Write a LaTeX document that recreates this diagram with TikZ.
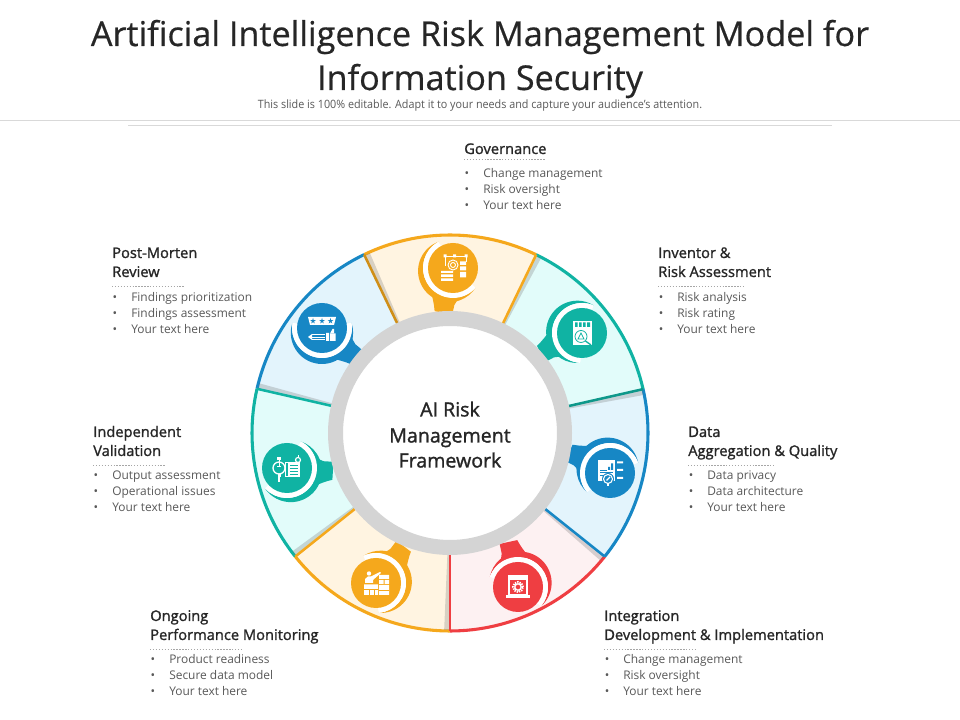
\documentclass[tikz,border=0pt]{standalone}
\usepackage{fontspec}
\setmainfont{Open Sans}
\newfontfamily\semifont[FakeBold=1.3]{Open Sans}
\newfontfamily\titlefont[FakeBold=0.5]{Open Sans}
\definecolor{cOr}{HTML}{F5A81C}\definecolor{fOr}{HTML}{FFF4E1}
\definecolor{cTe}{HTML}{10B3A3}\definecolor{fTe}{HTML}{E2FCFA}
\definecolor{cBl}{HTML}{1787C5}\definecolor{fBl}{HTML}{E3F4FC}
\definecolor{cRe}{HTML}{EF3E42}\definecolor{fRe}{HTML}{FDF1F2}
\definecolor{ringgray}{HTML}{D4D4D4}
\definecolor{txt}{HTML}{262626}\definecolor{body}{HTML}{595959}
\tikzset{
  x=0.75pt,y=0.75pt,
  headtxt/.style={anchor=base west,inner sep=0pt,text=txt,font=\semifont\fontsize{11pt}{13pt}\selectfont},
  itemtxt/.style={anchor=base west,inner sep=0pt,text=body,font=\fontsize{8.95pt}{11pt}\selectfont},
  bullettxt/.style={anchor=base,inner sep=0pt,text=body,font=\fontsize{9pt}{11pt}\selectfont},
  centertxt/.style={anchor=base,inner sep=0pt,text=txt,font=\semifont\fontsize{14.7pt}{17pt}\selectfont},
  titletxt/.style={anchor=base,inner sep=0pt,text=txt,font=\titlefont\fontsize{25.65pt}{30pt}\selectfont},
  dotline/.style={draw=black!35,line width=0.5pt,dash pattern=on 1pt off 1.2pt},
  glyph/.style={draw=white,line width=0.7pt,fill=none}
}
% name, x of bullets, first centre y, three texts
\newcommand{\itemblk}[6]{%
  \node[bullettxt] (#1bA) at (#2+3,{720-#3-5}) {•};
  \node[itemtxt] (#1iA) at (#2+19,{720-#3-5}) {#4};
  \node[bullettxt] (#1bB) at (#2+3,{720-#3-21}) {•};
  \node[itemtxt] (#1iB) at (#2+19,{720-#3-21}) {#5};
  \node[bullettxt] (#1bC) at (#2+3,{720-#3-37}) {•};
  \node[itemtxt] (#1iC) at (#2+19,{720-#3-37}) {#6};
}
% sector: a1 a2 fill colour
\newcommand{\sectorfill}[4]{%
  \fill[#3] (#1:112) -- (#1:198) arc[start angle=#1,end angle=#2,radius=198] -- (#2:112) arc[start angle=#2,end angle=#1,radius=112] -- cycle;
  \draw[#4,line width=2.3pt] (#1:198) arc[start angle=#1,end angle=#2,radius=198];
}
% divider at angle, colour
\newcommand{\divider}[2]{%
  \fill[black!55,opacity=.28] (#1:118) -- (#1:197) -- (#1-1.7:197) -- (#1-1.2:118) -- cycle;
  \draw[#2,line width=1.9pt] (#1:118) -- (#1:198);
}
% x, y (image), crescent angle, tab angle, colour
\newcommand{\pinshape}[5]{%
  \begin{scope}[shift={(#1,{720-#2})}]
    \fill[#5,rotate=#3] (-100:30) arc[start angle=-108.8,end angle=108.8,radius=31.16] arc[start angle=100,end angle=-100,radius=30] -- cycle;
    \fill[#5,rotate=#4] (27,-17) .. controls (33,-14) and (39,-11) .. (46,-9) -- (46,9) -- (36,9) .. controls (33,10) and (30,11) .. (27,13) -- cycle;
    \draw[white,line width=3.75pt,rotate=#3] (-100:27.5) arc[start angle=-100,end angle=100,radius=27.5];
    \fill[#5] (0,0) circle[radius=25];
  \end{scope}
}
\newcommand{\tinystar}[3]{\fill[#3] (#1,#2) +(90:3) -- +(234:3) -- +(18:3) -- +(162:3) -- +(306:3) -- cycle;}
\begin{document}
\begin{tikzpicture}
\path[use as bounding box,fill=white] (0,0) rectangle (960,720);
% title
\node[titletxt] (title1) at (480,674) {Artificial Intelligence Risk Management Model for};
\node[titletxt] (title2) at (480,630) {Information Security};
\node[inner sep=0pt,text=body,font=\fontsize{8.6pt}{10pt}\selectfont] (subtitle) at (480,614.5) {\scalebox{0.94}[1]{This slide is 100\% editable. Adapt it to your needs and capture your audience's attention.}};
\draw[black!15,line width=0.75pt] (0,599) -- (960,599);
\draw[black!15,line width=0.75pt] (128,594) -- (832,594);
% wheel
\begin{scope}[shift={(450,287)}]
  \sectorfill{64.2}{115.7}{fOr}{cOr}
  \sectorfill{115.7}{167.1}{fBl}{cBl}
  \sectorfill{167.1}{218.6}{fTe}{cTe}
  \sectorfill{218.6}{270}{fOr}{cOr}
  \sectorfill{270}{321.4}{fRe}{cRe}
  \sectorfill{-38.6}{12.8}{fBl}{cBl}
  \sectorfill{12.8}{64.2}{fTe}{cTe}
  \divider{115.7}{cOr!85!black}
  \divider{64.2}{cOr}
  \divider{12.8}{cTe!85!black}
  \divider{-38.6}{cBl}
  \divider{270}{cRe}
  \divider{218.6}{cOr}
  \divider{167.1}{cTe}
\end{scope}
% pins
\pinshape{453}{268}{219}{258}{cOr}
\pinshape{322}{328}{-90}{-40}{cBl}
\pinshape{582}{333}{167}{207}{cTe}
\pinshape{610}{473}{120}{154}{cBl}
\pinshape{518}{587}{60}{102}{cRe}
\pinshape{376}{583}{15}{53}{cOr}
\pinshape{287}{468}{-37.5}{-3.5}{cTe}
% central ring
\draw[ringgray,fill=white,line width=11.25pt] (450,287) circle[radius=114.5];
% glyph: top orange
\begin{scope}[shift={(453,452)}]
  \draw[glyph] (-8,12) -- (13,12) (-8,12) -- (-8,2) (13,12) -- (13,6);
  \fill[white] (-9.5,10.5) rectangle (-6.5,13.5) (11.5,10.5) rectangle (14.5,13.5) (0,10.5) rectangle (3,13.5);
  \draw[glyph] (0,3) circle[radius=5] (0,3) circle[radius=2.5];
  \fill[white] (7,3) rectangle (13,6.5) (7,-2.5) rectangle (13,1.5) (7,-9.5) rectangle (13,-4);
  \fill[white] (-12,-5) rectangle (0,-3) (-12,-9) rectangle (0,-6.5) (-12,-13) rectangle (0,-10.5);
\end{scope}
% glyph: post-morten
\begin{scope}[shift={(322,392)}]
  \fill[white] (-14,11) -- (14,11) -- (12,3) -- (-12,3) -- cycle;
  \tinystar{-9}{7}{cBl}\tinystar{0}{7}{cBl}\tinystar{8.5}{7}{cBl}
  \fill[white] (-14,-9) -- (-10,-6) -- (-10,-12) -- cycle;
  \draw[white,line width=0.6pt] (-10,-6.5) -- (3,-6.5) (-10,-9) -- (3,-9) (-10,-11.5) -- (3,-11.5);
  \fill[white] (4,-13) rectangle (7,-5) (8,-13) rectangle (13.5,-5.5);
  \fill[white] (8,-5.5) -- (10.5,-1) -- (12,-1) -- (12,-5.5) -- cycle;
\end{scope}
% glyph: inventor
\begin{scope}[shift={(582,387)}]
  \fill[white] (-9,-12) rectangle (10,12);
  \fill[cTe] (-7,6) rectangle (-4.5,10.5) (-3,6) rectangle (-0.5,10.5) (1,6) rectangle (3.5,10.5) (5,6) rectangle (8,10.5);
  \draw[cTe,line width=0.6pt] (-1,-3.5) circle[radius=6];
  \draw[cTe,line width=0.6pt] (-4,-6) -- (-1,0) -- (2,-6) -- cycle;
  \draw[cTe,line width=1pt] (3.5,-8) -- (9,-12);
\end{scope}
% glyph: data
\begin{scope}[shift={(610,247)}]
  \fill[white] (-12,-8) rectangle (5,13);
  \fill[cBl] (-2,3) rectangle (0,6) (1,3) rectangle (3,9.5);
  \draw[cBl,line width=0.5pt] (-10,3) -- (-3,3) (-10,0.5) -- (3,0.5) (-10,-2) -- (3,-2);
  \fill[white] (7,9.5) rectangle (13,11.5) (7,2) rectangle (13,4) (7,-6) rectangle (13,-4);
  \fill[cBl] (-2,-6) circle[radius=6];
  \draw[white,line width=0.8pt] (-2,-6) circle[radius=4.5] (-3.5,-7.5) -- (0,-4);
  \draw[white,line width=1pt] (-2,-10.5) -- (-2,-13);
\end{scope}
% glyph: red
\begin{scope}[shift={(518,133)}]
  \draw[white,line width=1pt] (-9,-8) rectangle (9,11.5);
  \fill[white] (-8,7) rectangle (8,11.5);
  \fill[white] (-12,-11.5) -- (12,-11.5) -- (12,-8.5) -- (-12,-8.5) -- cycle;
  \draw[white,line width=1.5pt,dash pattern=on 1pt off 0.8pt] (0,0) circle[radius=5];
  \draw[white,line width=1pt] (0,0) circle[radius=3.2];
\end{scope}
% glyph: bottom orange
\begin{scope}[shift={(376,137)}]
  \fill[white] (-7,9.5) circle[radius=2.2];
  \fill[white] (-11,0) -- (-11,4) -- (-8,6.5) -- (-5,6.5) -- (4,11) -- (5,10) -- (-3,3) -- (-3,0) -- cycle;
  \fill[white] (3,4) rectangle (13,8) (3,-1) rectangle (7.5,3) (8.5,-1) rectangle (13,3);
  \fill[white] (-12,-12) rectangle (2,-1.5) (3,-12) rectangle (13,-2);
  \draw[cOr,line width=0.5pt] (-12,-6) -- (2,-6) (-7,-12) -- (-7,-6) (-2,-12) -- (-2,-6) (3,-7) -- (13,-7);
\end{scope}
% glyph: independent
\begin{scope}[shift={(287,252)}]
  \draw[white,line width=1pt] (-8,0) circle[radius=6];
  \draw[white,line width=0.7pt] (-10,2) -- (-6,2) (-8,2) -- (-8,9);
  \fill[white] (-10,8) rectangle (-6,11);
  \fill[white] (-9.5,-9) rectangle (-6.5,-6);
  \draw[white,line width=1pt] (-8,-9) -- (-8,-14);
  \fill[white] (1,-9) rectangle (13,6);
  \draw[cTe,line width=0.5pt] (3,3) -- (11,3) (3,0) -- (11,0) (3,-3) -- (11,-3) (3,-6) -- (11,-6);
  \draw[white,line width=0.9pt] (11,8) circle[radius=2.5];
  \draw[white,line width=0.7pt] (11,10.5) -- (11,13) (-2,-8) -- (1,-8) (-2,-8) -- (-2,6) -- (1,6);
\end{scope}
% centre label
\node[centertxt] (cA) at (450,303.5) {AI Risk};
\node[centertxt] (cB) at (450,277.5) {Management};
\node[centertxt] (cC) at (450,252.5) {Framework};
% Governance
\node[headtxt] (govH) at (464,566) {Governance};
\draw[dotline] (464,560.5) -- (545,560.5);
\itemblk{gov}{464}{173}{Change management}{Risk oversight}{Your text here}
% Post-Morten
\node[headtxt] (pmA) at (112,462) {Post-Morten};
\node[headtxt] (pmB) at (112,443) {Review};
\draw[dotline] (112,434) -- (185,434);
\itemblk{pm}{112}{297}{Findings prioritization}{Findings assessment}{Your text here}
% Inventor
\node[headtxt] (invA) at (658,462) {Inventor \&};
\node[headtxt] (invB) at (658,443) {Risk Assessment};
\draw[dotline] (658,434) -- (745,434);
\itemblk{inv}{658}{297}{Risk analysis}{Risk rating}{Your text here}
% Data
\node[headtxt] (daA) at (688,283) {Data};
\node[headtxt] (daB) at (688,264) {Aggregation \& Quality};
\draw[dotline] (688,255) -- (775,255);
\itemblk{da}{688}{475}{Data privacy}{Data architecture}{Your text here}
% Independent
\node[headtxt] (ivA) at (93,283) {Independent};
\node[headtxt] (ivB) at (93,264) {Validation};
\draw[dotline] (93,255) -- (166,255);
\itemblk{iv}{93}{475}{Output assessment}{Operational issues}{Your text here}
% Ongoing
\node[headtxt] (onA) at (150,99) {Ongoing};
\node[headtxt] (onB) at (150,80) {Performance Monitoring};
\draw[dotline] (150,71) -- (241,71);
\itemblk{on}{150}{659}{Product readiness}{Secure data model}{Your text here}
% Integration
\node[headtxt] (inA) at (604,99) {Integration};
\node[headtxt] (inB) at (604,80) {Development \& Implementation};
\draw[dotline] (604,71) -- (695,71);
\itemblk{in}{604}{659}{Change management}{Risk oversight}{Your text here}
\end{tikzpicture}
\end{document}
